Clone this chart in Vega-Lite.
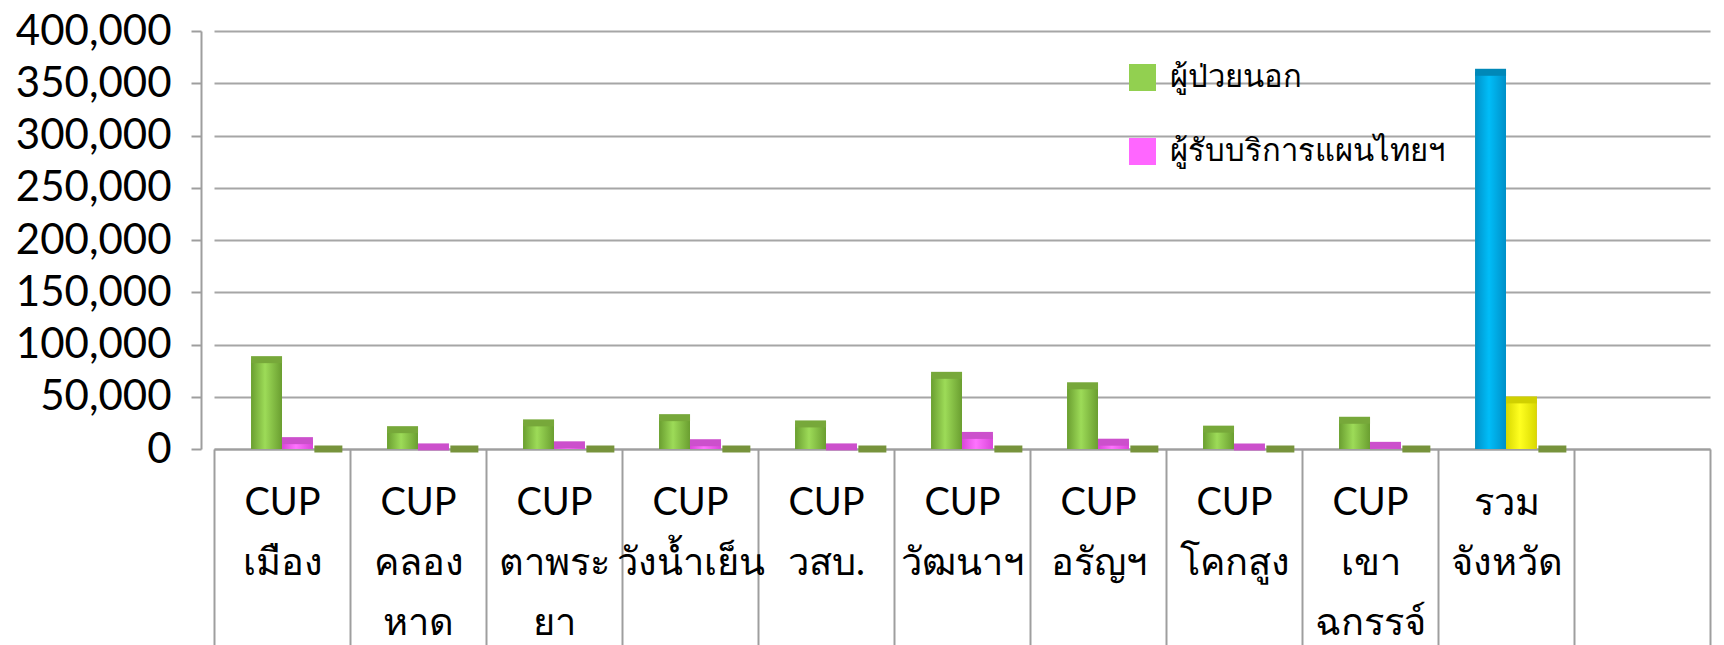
{
  "$schema": "https://vega.github.io/schema/vega-lite/v6.json",
  "width": 1496,
  "height": 418,
  "autosize": {"type": "none"},
  "padding": {"left": 214, "top": 31, "right": 14, "bottom": 196},
  "background": "white",
  "config": {"view": {"stroke": null}, "font": "Lato"},
  "data": {
    "values": [
      {"category": "CUP|เมือง", "series": "ผู้ป่วยนอก", "value": 85500},
      {"category": "CUP|เมือง", "series": "ผู้รับบริการแผนไทยฯ", "value": 8000},
      {"category": "CUP|เมือง", "series": "ชุดที่ 3", "value": 0},
      {"category": "CUP|คลอง|หาด", "series": "ผู้ป่วยนอก", "value": 18500},
      {"category": "CUP|คลอง|หาด", "series": "ผู้รับบริการแผนไทยฯ", "value": 2000},
      {"category": "CUP|คลอง|หาด", "series": "ชุดที่ 3", "value": 0},
      {"category": "CUP|ตาพระ|ยา", "series": "ผู้ป่วยนอก", "value": 25000},
      {"category": "CUP|ตาพระ|ยา", "series": "ผู้รับบริการแผนไทยฯ", "value": 4000},
      {"category": "CUP|ตาพระ|ยา", "series": "ชุดที่ 3", "value": 0},
      {"category": "CUP|วังน้ำเย็น", "series": "ผู้ป่วยนอก", "value": 30000},
      {"category": "CUP|วังน้ำเย็น", "series": "ผู้รับบริการแผนไทยฯ", "value": 6000},
      {"category": "CUP|วังน้ำเย็น", "series": "ชุดที่ 3", "value": 0},
      {"category": "CUP|วสบ.", "series": "ผู้ป่วยนอก", "value": 24000},
      {"category": "CUP|วสบ.", "series": "ผู้รับบริการแผนไทยฯ", "value": 2000},
      {"category": "CUP|วสบ.", "series": "ชุดที่ 3", "value": 0},
      {"category": "CUP|วัฒนาฯ", "series": "ผู้ป่วยนอก", "value": 70500},
      {"category": "CUP|วัฒนาฯ", "series": "ผู้รับบริการแผนไทยฯ", "value": 13000},
      {"category": "CUP|วัฒนาฯ", "series": "ชุดที่ 3", "value": 0},
      {"category": "CUP|อรัญฯ", "series": "ผู้ป่วยนอก", "value": 60500},
      {"category": "CUP|อรัญฯ", "series": "ผู้รับบริการแผนไทยฯ", "value": 6500},
      {"category": "CUP|อรัญฯ", "series": "ชุดที่ 3", "value": 0},
      {"category": "CUP|โคกสูง", "series": "ผู้ป่วยนอก", "value": 19000},
      {"category": "CUP|โคกสูง", "series": "ผู้รับบริการแผนไทยฯ", "value": 2000},
      {"category": "CUP|โคกสูง", "series": "ชุดที่ 3", "value": 0},
      {"category": "CUP|เขา|ฉกรรจ์", "series": "ผู้ป่วยนอก", "value": 27500},
      {"category": "CUP|เขา|ฉกรรจ์", "series": "ผู้รับบริการแผนไทยฯ", "value": 3500},
      {"category": "CUP|เขา|ฉกรรจ์", "series": "ชุดที่ 3", "value": 0},
      {"category": "รวม|จังหวัด", "series": "ผู้ป่วยนอก", "value": 360500},
      {"category": "รวม|จังหวัด", "series": "ผู้รับบริการแผนไทยฯ", "value": 47000},
      {"category": "รวม|จังหวัด", "series": "ชุดที่ 3", "value": 0}
    ]
  },
  "encoding": {
    "x": {
      "field": "category",
      "type": "nominal",
      "sort": null,
      "scale": {
        "domain": ["CUP|เมือง", "CUP|คลอง|หาด", "CUP|ตาพระ|ยา", "CUP|วังน้ำเย็น", "CUP|วสบ.", "CUP|วัฒนาฯ", "CUP|อรัญฯ", "CUP|โคกสูง", "CUP|เขา|ฉกรรจ์", "รวม|จังหวัด", " "],
        "paddingInner": 0,
        "paddingOuter": 0
      },
      "axis": {
        "title": null,
        "labelAngle": 0,
        "labelExpr": "split(datum.label, '|')",
        "labelFontSize": 38,
        "labelColor": "black",
        "labelLineHeight": 60,
        "labelBaseline": "top",
        "labelPadding": -165,
        "labelLimit": 0,
        "labelOverlap": false,
        "ticks": true,
        "tickBand": "extent",
        "tickSize": 200,
        "tickColor": "#9E9E9E",
        "tickWidth": 2,
        "domainColor": "#9E9E9E",
        "domainWidth": 2,
        "grid": false
      }
    },
    "xOffset": {
      "field": "series",
      "type": "nominal",
      "sort": null,
      "scale": {"domain": ["(ช่องว่าง)", "ผู้ป่วยนอก", "ผู้รับบริการแผนไทยฯ", "ชุดที่ 3"], "paddingInner": 0, "paddingOuter": 0.2}
    },
    "y": {
      "field": "value",
      "type": "quantitative",
      "scale": {"domain": [0, 400000], "nice": false},
      "axis": {
        "title": null,
        "values": [0, 50000, 100000, 150000, 200000, 250000, 300000, 350000, 400000],
        "format": ",.0f",
        "labelFontSize": 42,
        "labelColor": "black",
        "labelPadding": 20,
        "tickSize": 10,
        "tickColor": "#9E9E9E",
        "tickWidth": 2,
        "domainColor": "#9E9E9E",
        "domainWidth": 2,
        "offset": 13,
        "grid": true,
        "gridColor": "#A6A6A6",
        "gridWidth": 2
      }
    }
  },
  "layer": [
    {
      "transform": [{"filter": "datum.series !== 'ชุดที่ 3'"}],
      "mark": {"type": "bar"},
      "encoding": {
        "color": {
          "field": "series",
          "type": "nominal",
          "scale": {"domain": ["ผู้ป่วยนอก", "ผู้รับบริการแผนไทยฯ"], "range": ["#92D050", "#FF66FF"]},
          "legend": {
            "orient": "none",
            "legendX": 913,
            "legendY": 31,
            "title": null,
            "symbolType": "square",
            "symbolSize": 729,
            "symbolStrokeWidth": 0,
            "labelFontSize": 31,
            "labelColor": "black",
            "labelLimit": 0,
            "labelOffset": 12,
            "rowPadding": 42
          }
        }
      }
    },
    {
      "transform": [{"filter": "datum.series === 'ผู้ป่วยนอก' && datum.category !== 'รวม|จังหวัด'"}],
      "mark": {
        "type": "bar",
        "fill": {"gradient": "linear", "x1": 0, "x2": 1, "y1": 0, "y2": 0, "stops": [{"offset": 0, "color": "#6A9E30"}, {"offset": 0.45, "color": "#9DDB58"}, {"offset": 1, "color": "#6A9E30"}]}
      }
    },
    {
      "transform": [{"filter": "datum.series === 'ผู้รับบริการแผนไทยฯ' && datum.category !== 'รวม|จังหวัด'"}],
      "mark": {
        "type": "bar",
        "fill": {"gradient": "linear", "x1": 0, "x2": 1, "y1": 0, "y2": 0, "stops": [{"offset": 0, "color": "#D946D9"}, {"offset": 0.45, "color": "#FF73FF"}, {"offset": 1, "color": "#D946D9"}]}
      }
    },
    {
      "transform": [{"filter": "datum.series === 'ผู้ป่วยนอก' && datum.category === 'รวม|จังหวัด'"}],
      "mark": {
        "type": "bar",
        "fill": {"gradient": "linear", "x1": 0, "x2": 1, "y1": 0, "y2": 0, "stops": [{"offset": 0, "color": "#0090C8"}, {"offset": 0.45, "color": "#00BDF8"}, {"offset": 1, "color": "#0090C8"}]}
      }
    },
    {
      "transform": [{"filter": "datum.series === 'ผู้รับบริการแผนไทยฯ' && datum.category === 'รวม|จังหวัด'"}],
      "mark": {
        "type": "bar",
        "fill": {"gradient": "linear", "x1": 0, "x2": 1, "y1": 0, "y2": 0, "stops": [{"offset": 0, "color": "#D8D800"}, {"offset": 0.45, "color": "#FFFF20"}, {"offset": 1, "color": "#D8D800"}]}
      }
    },
    {
      "transform": [{"filter": "datum.series === 'ผู้ป่วยนอก' && datum.category !== 'รวม|จังหวัด'"}],
      "mark": {"type": "tick", "color": "#77A83A", "thickness": 7, "size": 31, "opacity": 1}
    },
    {
      "transform": [{"filter": "datum.series === 'ผู้รับบริการแผนไทยฯ' && datum.category !== 'รวม|จังหวัด'"}],
      "mark": {"type": "tick", "color": "#CC50CC", "thickness": 7, "size": 31, "opacity": 1}
    },
    {
      "transform": [{"filter": "datum.series === 'ผู้ป่วยนอก' && datum.category === 'รวม|จังหวัด'"}],
      "mark": {"type": "tick", "color": "#0088B8", "thickness": 7, "size": 31, "opacity": 1}
    },
    {
      "transform": [{"filter": "datum.series === 'ผู้รับบริการแผนไทยฯ' && datum.category === 'รวม|จังหวัด'"}],
      "mark": {"type": "tick", "color": "#D0D000", "thickness": 7, "size": 31, "opacity": 1}
    },
    {
      "transform": [{"filter": "datum.series === 'ชุดที่ 3'"}],
      "mark": {"type": "tick", "color": "#77933C", "thickness": 7, "size": 28, "opacity": 1}
    }
  ]
}
